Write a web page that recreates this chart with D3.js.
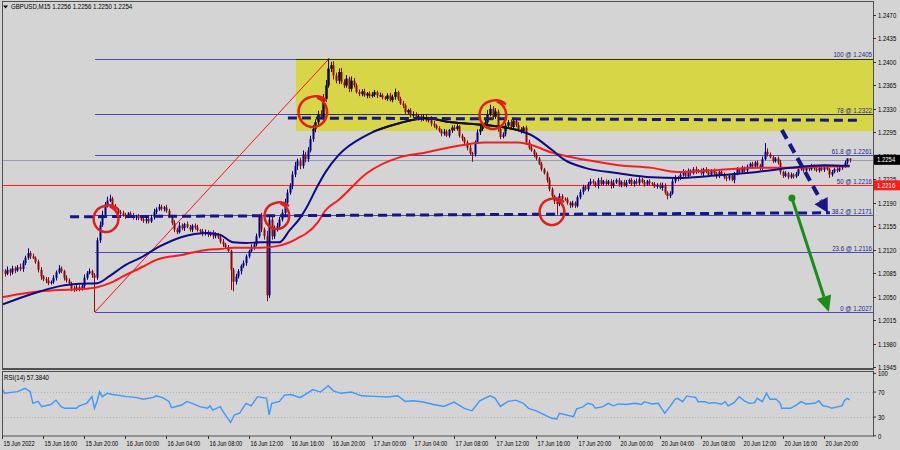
<!DOCTYPE html>
<html><head><meta charset="utf-8">
<script src="https://cdn.jsdelivr.net/npm/d3@7"></script>
<style>body{margin:0;background:#d4d4d4;} svg{display:block;}</style>
</head><body><svg id="c" width="900" height="450"></svg>
<script>
// ---------------- DATA (prices in pips above 1.2000) ----------------
const symbolTitle = "GBPUSD,M15  1.2256 1.2256 1.2250 1.2254";
const rsiTitle = "RSI(14) 57.3840";
const firstOpen = 90;
const closes = [
88,84,90,86,92,89,94,91,100,108,
115,110,108,102,90,80,76,74,70,72,
78,86,92,88,78,74,70,62,60,64,
61,66,78,85,88,82,78,134,157,172,
187,193,196,184,180,176,174,172,170,174,
171,168,170,167,165,163,166,162,168,176,
180,184,181,183,178,170,160,150,146,156,
152,158,154,150,156,153,149,148,144,146,
142,145,140,143,138,132,128,124,118,90,
72,80,88,96,100,110,118,124,128,140,
170,150,140,52,165,140,150,155,165,175,
190,205,215,232,245,252,245,262,255,268,
285,300,310,322,318,345,365,390,395,380,
372,385,370,365,375,360,372,365,355,352,
356,350,353,349,351,355,350,350,347,345,
350,343,348,355,345,338,335,325,328,320,
322,316,319,315,318,313,316,308,305,301,
298,293,296,290,298,302,300,304,290,286,
280,272,264,262,280,295,300,306,310,322,
330,318,326,300,288,292,305,310,303,312,
306,300,296,302,280,272,268,262,256,248,
240,234,224,210,200,192,188,200,196,195,
190,186,190,185,198,206,214,210,218,222,
220,215,224,218,222,218,222,215,220,224,
217,221,216,220,224,218,222,219,225,221,
217,222,219,218,214,217,212,216,205,200,
204,222,228,226,232,236,230,238,234,240,
236,238,234,240,236,232,238,234,230,236,
232,228,226,230,224,234,240,236,242,238,
244,248,244,250,246,242,255,266,262,258,
252,256,250,236,230,234,228,232,229,233,
240,244,238,242,240,245,241,238,242,239,
243,240,232,236,240,238,242,244,250,256,254];
const wickUp = [
4,3,5,2,4,3,3,5,4,3, 7,3,4,2,3,4,2,3,5,2, 4,3,5,3,2,4,3,2,4,3, 3,4,5,3,4,2,3,4,5,6,
4,6,6,3,4,2,3,4,3,2, 3,4,2,3,2,4,3,2,4,5, 3,4,3,2,4,3,2,4,3,5, 3,2,4,3,2,3,4,2,3,4,
3,2,4,3,2,3,4,2,3,2, 3,4,3,2,4,3,2,4,3,4, 2,5,3,8,5,4,6,5,4,5, 6,5,4,5,6,4,5,6,4,5,
5,6,4,5,6,7,8,15,5,6, 4,5,6,4,5,3,6,4,3,4, 3,4,2,3,4,3,2,4,3,2, 3,4,3,5,2,3,4,3,2,3,
4,3,2,3,4,3,2,3,4,2, 3,2,4,3,2,3,4,3,2,3, 2,3,4,2,3,4,5,4,3,6, 6,4,5,3,4,3,4,3,4,3,
3,4,3,2,3,4,3,2,3,2, 3,2,3,4,3,2,3,4,3,2, 3,2,3,2,3,4,3,2,3,4, 3,2,3,4,2,3,2,3,4,2,
3,2,3,4,2,3,2,4,3,2, 3,2,3,2,3,2,3,4,3,2, 3,4,3,2,3,4,2,3,2,3, 4,2,3,2,3,4,2,3,2,3,
2,3,2,3,4,2,3,2,3,2, 3,2,3,2,3,2,4,13,5,3, 3,2,3,4,2,3,2,3,2,3, 2,3,2,3,2,3,2,3,2,3,
2,3,2,3,2,3,2,2,3,0,0];
const wickDn = [
3,4,2,5,3,4,2,3,4,3, 3,4,2,3,4,5,3,4,3,2, 3,4,2,3,4,3,2,4,3,2, 3,2,4,3,2,4,51,3,4,3,
3,4,2,3,4,3,2,3,4,3, 2,3,4,3,2,3,4,3,2,3, 3,2,3,4,3,2,3,4,3,2, 3,4,2,3,4,3,2,3,4,3,
3,2,4,3,2,3,4,3,2,30, 14,4,3,5,3,4,3,2,4,3, 3,4,5,9,4,5,4,3,4,3, 3,4,3,5,4,6,5,4,5,4,
3,4,5,4,3,5,4,3,5,6, 4,5,3,4,3,5,4,3,2,3, 3,2,4,3,2,3,4,2,3,2, 3,2,3,4,3,2,4,3,2,3,
3,2,3,4,3,2,3,4,3,2, 3,4,3,2,3,4,3,2,3,4, 3,4,3,11,3,2,4,3,2,3, 3,4,3,4,3,2,3,4,3,2,
3,4,3,2,4,3,2,4,3,2, 3,2,4,3,2,4,16,3,4,2, 3,4,3,3,2,3,4,2,3,2, 3,2,4,3,2,3,2,4,3,2,
3,4,2,3,2,3,4,2,3,2, 3,2,4,3,2,3,2,4,3,5, 3,2,3,4,2,3,2,3,4,2, 3,2,3,4,2,3,2,3,4,3,
2,3,4,3,2,5,3,2,3,2, 3,2,3,2,3,4,3,2,3,2, 3,2,3,4,3,2,3,2,3,2, 3,2,3,2,3,2,3,2,3,2,
3,2,5,3,2,3,2,3,2,3,4];
// moving averages (bar index -> pips)
const maIdx  = [0,7,15,23,30,37,42,48,54,61,70,80,85,90,95,101,108,112,116,118,123,126,131,142,155,165,175,188,201,206,214,219,227,240,253,263,279,294,307,320,330];
const maFast = [38,48,58,66,69,70,81,97,108,124,139,145,142,131,130,131,131,149,167,179,216,236,261,291,309,316,310,306,298,291,269,254,242,234,228,227,231,236,242,246,245];
const maSlow = [49,54,58,60,61,64,70,82,93,106,112,120,121,123,123,123,126,131,139,143,161,179,194,234,258,265,273,280,280,276,265,260,254,246,242,236,239,242,242,244,244];
// RSI(14)
const rsiIdx = [0,1,6,9,11,12,14,15.5,19,21,23,24.5,29,30,33,35,36,37,38,39,41,43,45,48.5,52,55,59,60,62.5,65,66,70,72,74,77,80,81,82,85,86,89,90.5,92.5,95,97,99.5,103,104,105,108,110,112.6,116,
118,121,124,127,129,132,136,140,145,150,154,157,160,164,168,172,176,180,183,186,190,192,194,197,200,203,205,208,211,214,216,
217,222.5,223.7,226,228,230,231,234,236,238,240,243,246.6,249,250,253,255.5,258,260,262,263,265,266.6,268,270,271,273.7,275,277.5,280,281.5,282.7,285,287,289,291,293,294,296,297.6,299,301.4,303,303.5,307,309.5,311,313,316.5,318,319.6,321.5,323,325.6,327,328,329,330];
const rsiVal = [76,68,70.6,76,70.6,52,55,46.6,50,57,46.6,44,44,48,52,62.6,44,55,70.6,62.6,68,66,65,62.6,61.5,58.4,61.5,64,61,55,45,49.3,55,52,46.6,44,48,41,46.6,38.9,21.6,33.6,36.2,52,48,62.6,60,33.6,52,55,65,66,61,
66,74,70,80,72,68,70,64,63,62,64,55,56,54,50,47,54,44,40,56,64,60,47,55,57,52,44,40,34,28,27,
36,30.7,43,46,52,50,44,46.6,52,48,51,50,52,50,54.6,51,52,36,46.6,58.4,60,54.6,63.8,62.6,61.5,54.6,54.6,52,53,50.5,54.6,48,53,62.6,56,52,53,60,54.6,68,58.4,58.4,52,44,44,50,54.6,51,52,56,48,46.6,44,46.6,48,56.5,60,57.4];
const timeLabels = ["15 Jun 2022","15 Jun 16:00","15 Jun 20:00","16 Jun 00:00","16 Jun 04:00","16 Jun 08:00","16 Jun 12:00","16 Jun 16:00","16 Jun 20:00","17 Jun 00:00","17 Jun 04:00","17 Jun 08:00","17 Jun 12:00","17 Jun 16:00","17 Jun 20:00","20 Jun 00:00","20 Jun 04:00","20 Jun 08:00","20 Jun 12:00","20 Jun 16:00","20 Jun 20:00"];
const barsPerLabel = 16;
const priceTicks = ["1.2470","1.2435","1.2400","1.2365","1.2330","1.2295","1.2260","1.2225","1.2190","1.2155","1.2120","1.2085","1.2050","1.2015","1.1980","1.1945"];
const rsiTicks = [100,70,30,0];
const rsiLevels = [70,30];
const fibNames  = ["100","78","61.8","50","38.2","23.6","0"];
const fibPips   = [405,322,261,216,171,116,27];
const fibStartBar = 36.2;
const fibAnchor = [[36.2,27],[127.4,405]];
const supportPips = 216, bidPips = 254;
const zone = {bar0:114.4, top:405, bottom:297};
const dashUpper = [[111.3,316.4],[334.8,313]];
const dashLower = [[26.5,169],[322.3,175]];
const arrowBlue = [[303.6,298.5],[321.5,175]];
const arrowGreen = [[307.5,197],[321.9,27]];
const circleBars = [40.5,107,121,191.1,214.1];
const circlePips = [165.7,170.2,325.3,320.9,176.2];
const circleR = [13,13,15,14,13];

// ---------------- LAYOUT ----------------
const L=2, R=873, T=2, B=368, RT=371, RB=436;
const x = d3.scaleLinear().domain([0, 20*barsPerLabel]).range([2, 824]);
const y = d3.scaleLinear().domain([-55, 470]).range([367, 15]);
const yr = d3.scaleLinear().domain([0, 100]).range([435.8, 373.3]);
const FONT = "'Liberation Sans', Arial, sans-serif";
const svg = d3.select("#c");
svg.append("rect").attr("width",900).attr("height",450).attr("fill","#d4d4d4");
const defs = svg.append("defs");
defs.append("clipPath").attr("id","plot").append("rect").attr("x",L).attr("y",T).attr("width",R-L).attr("height",B-T);
defs.append("clipPath").attr("id","zone").append("rect")
  .attr("x",x(zone.bar0)).attr("y",y(zone.top)).attr("width",R-x(zone.bar0)).attr("height",y(zone.bottom)-y(zone.top));
defs.append("clipPath").attr("id","rsi").append("rect").attr("x",L).attr("y",RT).attr("width",R-L).attr("height",RB-RT);

function label(g, px, py, s, o={}) {
  return g.append("text").attr("transform",`translate(${px},${py}) scale(${o.sx||0.84},1)`)
    .attr("font-family",FONT).attr("font-size",o.fs||7.1).attr("fill",o.fill||"#000")
    .attr("text-anchor",o.anchor||"start").text(s);
}

const plot = svg.append("g").attr("clip-path","url(#plot)");
// yellow zone
plot.append("rect").attr("x",x(zone.bar0)).attr("y",y(zone.top)).attr("width",R-x(zone.bar0))
  .attr("height",y(zone.bottom)-y(zone.top)).attr("fill","#d6d646");
// bid line
plot.append("line").attr("x1",L).attr("x2",R).attr("y1",Math.round(y(bidPips))+0.5).attr("y2",Math.round(y(bidPips))+0.5).attr("stroke","#9c9cb4").attr("stroke-width",1);
// fib lines
fibPips.forEach((p,k)=>{
  if (fibNames[k]==="50") return;
  plot.append("line").attr("x1",x(fibStartBar)).attr("x2",R).attr("y1",Math.round(y(p))+0.5).attr("y2",Math.round(y(p))+0.5)
    .attr("stroke","#4c4cb0").attr("stroke-width",1);
});
// support line
plot.append("line").attr("x1",L).attr("x2",R).attr("y1",Math.round(y(supportPips))+0.5).attr("y2",Math.round(y(supportPips))+0.5)
  .attr("stroke","#ff2020").attr("stroke-width",1.2);
// fib diagonal
plot.append("line").attr("x1",x(fibAnchor[0][0])).attr("y1",y(fibAnchor[0][1])).attr("x2",x(fibAnchor[1][0])).attr("y2",y(fibAnchor[1][1]))
  .attr("stroke","#ff1010").attr("stroke-width",1);

// candles
const bars = closes.map((c,i)=>{
  const o = i===0 ? firstOpen : closes[i-1];
  const h = Math.max(o,c) + (wickUp[i]||0), l = Math.min(o,c) - (wickDn[i]||0);
  return {i,o,c,h,l,bull:c>=o};
});
function drawCandles(g, bullCol, bearCol, only) {
  bars.forEach(d=>{
    if (only && !d.bull) return;
    const col = d.bull ? bullCol : bearCol;
    const cx = Math.round(x(d.i));
    g.append("line").attr("x1",cx+0.5).attr("x2",cx+0.5).attr("y1",y(d.h)).attr("y2",y(d.l)).attr("stroke",col).attr("stroke-width",1);
    const y0 = y(Math.max(d.o,d.c)), y1 = y(Math.min(d.o,d.c));
    g.append("rect").attr("x",cx-0.5).attr("y",y0).attr("width",2).attr("height",Math.max(1,y1-y0)).attr("fill",col);
  });
}
drawCandles(plot.append("g"), "#000080", "#8b0a0a");

// moving averages
const maLine = vals => d3.line().x((d,k)=>x(maIdx[k])).y(d=>y(d)).curve(d3.curveMonotoneX)(vals);
plot.append("path").attr("d",maLine(maSlow)).attr("fill","none").attr("stroke","#ff1a1a").attr("stroke-width",2);
plot.append("path").attr("d",maLine(maFast)).attr("fill","none").attr("stroke","#0c0c8a").attr("stroke-width",2);

// inside the yellow zone navy items look black
const zg = plot.append("g").attr("clip-path","url(#zone)");
[405,322].forEach(p=>zg.append("line").attr("x1",L).attr("x2",R).attr("y1",Math.round(y(p))+0.5).attr("y2",Math.round(y(p))+0.5).attr("stroke","#303020"));
drawCandles(zg, "#101010", "#101010", true);
zg.append("path").attr("d",maLine(maFast)).attr("fill","none").attr("stroke","#101010").attr("stroke-width",2);

// fib labels
fibPips.forEach((p,k)=>{
  label(svg, R-1, y(p)-1.5, `${fibNames[k]} @ ${(1.2+p/10000).toFixed(4)}`, {anchor:"end", fill:"#26268c", fs:7.3});
});

// dashed levels
const NAVY="#16168a";
[dashUpper, dashLower].forEach(seg=>{
  plot.append("line").attr("x1",x(seg[0][0])).attr("y1",y(seg[0][1])).attr("x2",x(seg[1][0])).attr("y2",y(seg[1][1]))
    .attr("stroke",NAVY).attr("stroke-width",3).attr("stroke-dasharray","9,5");
});
function arrow(g, seg, col, w, dash, headL, headW) {
  const x1=x(seg[0][0]), y1=y(seg[0][1]), x2=x(seg[1][0]), y2=y(seg[1][1]);
  const dx=x2-x1, dy=y2-y1, len=Math.hypot(dx,dy), ux=dx/len, uy=dy/len;
  const bx=x2-ux*headL, by=y2-uy*headL;
  const ln = g.append("line").attr("x1",x1).attr("y1",y1).attr("x2",bx).attr("y2",by).attr("stroke",col).attr("stroke-width",w);
  if (dash) ln.attr("stroke-dasharray",dash);
  g.append("path").attr("d",`M${x2},${y2}L${bx-uy*headW/2},${by+ux*headW/2}L${bx+uy*headW/2},${by-ux*headW/2}Z`).attr("fill",col);
  return [x1,y1];
}
arrow(plot, arrowBlue, NAVY, 4, "10,6", 14, 15);
const gs = arrow(plot, arrowGreen, "#1a8c1a", 3, null, 16, 15);
plot.append("circle").attr("cx",gs[0]).attr("cy",gs[1]).attr("r",3.5).attr("fill","#1a8c1a");

// hand drawn red circles
circleBars.forEach((b,k)=>{
  const cx=x(b), cy=y(circlePips[k]), r=circleR[k];
  const pts=[]; const a0=-Math.PI*0.38, sweep=Math.PI*2.15;
  for (let t=0;t<=1.0001;t+=0.02){
    const a=a0+sweep*t, rr=r*(1+0.22*Math.max(0,t-0.85)/0.15);
    pts.push([cx+Math.cos(a)*rr*0.95, cy+Math.sin(a)*rr]);
  }
  plot.append("path").attr("d",d3.line().curve(d3.curveCatmullRom)(pts)).attr("fill","none").attr("stroke","#e41c1c").attr("stroke-width",2.5).attr("stroke-linecap","round");
});

// ---------------- RSI panel ----------------
const rg = svg.append("g").attr("clip-path","url(#rsi)");
rsiLevels.forEach(v=>rg.append("line").attr("x1",L).attr("x2",R).attr("y1",Math.round(yr(v))+0.5).attr("y2",Math.round(yr(v))+0.5)
  .attr("stroke","#b0b0b0").attr("stroke-dasharray","1,2"));
const n = Math.min(rsiIdx.length, rsiVal.length);
rg.append("path").attr("d",d3.line().x(d=>x(d[0])).y(d=>yr(d[1]))(d3.range(n).map(k=>[rsiIdx[k],rsiVal[k]])))
  .attr("fill","none").attr("stroke","#3a98ff").attr("stroke-width",1.4);

// ---------------- frames & axes ----------------
svg.append("rect").attr("x",L+0.5).attr("y",T-0.5).attr("width",R-L).attr("height",B-T+1).attr("fill","none").attr("stroke","#505050").attr("stroke-width",1);
svg.append("line").attr("x1",L).attr("x2",R+1).attr("y1",B+1).attr("y2",B+1).attr("stroke","#505050").attr("stroke-width",2);
svg.append("rect").attr("x",L+0.5).attr("y",RT+0.5).attr("width",R-L).attr("height",RB-RT-0.5).attr("fill","none").attr("stroke","#505050").attr("stroke-width",1);

// price axis
priceTicks.forEach(s=>{
  const p=(+s-1.2)*10000, py=Math.round(y(p))+0.5;
  svg.append("line").attr("x1",R).attr("x2",R+3).attr("y1",py).attr("y2",py).attr("stroke","#333");
  label(svg, R+5, py+2.4, s);
});
// current price & support labels
function priceBox(p, bg) {
  const py=y(p);
  svg.append("rect").attr("x",R+1).attr("y",py-5).attr("width",26).attr("height",10).attr("fill",bg);
  label(svg, R+4, py+2.5, (1.2+p/10000).toFixed(4), {fill:"#fff"});
}
priceBox(bidPips, "#000");
priceBox(supportPips, "#ff1a1a");
// rsi axis
rsiTicks.forEach(v=>{
  const py=yr(v);
  svg.append("line").attr("x1",R).attr("x2",R+3).attr("y1",py).attr("y2",py).attr("stroke","#333");
  label(svg, R+5, py+2.8, String(v));
});
// time axis
timeLabels.forEach((s,k)=>{
  const px=Math.round(x(k*barsPerLabel))+0.5;
  svg.append("line").attr("x1",px).attr("x2",px).attr("y1",RB).attr("y2",RB+3).attr("stroke","#333");
  label(svg, px+1, 446, s, {sx:0.8});
});
// titles
svg.append("path").attr("d","M3,5.5L8,5.5L5.5,8.5Z").attr("fill","#000");
label(svg, 11, 9, symbolTitle, {fs:7.3});
label(svg, 4, 380, rsiTitle, {fs:7.3});
</script></body></html>
